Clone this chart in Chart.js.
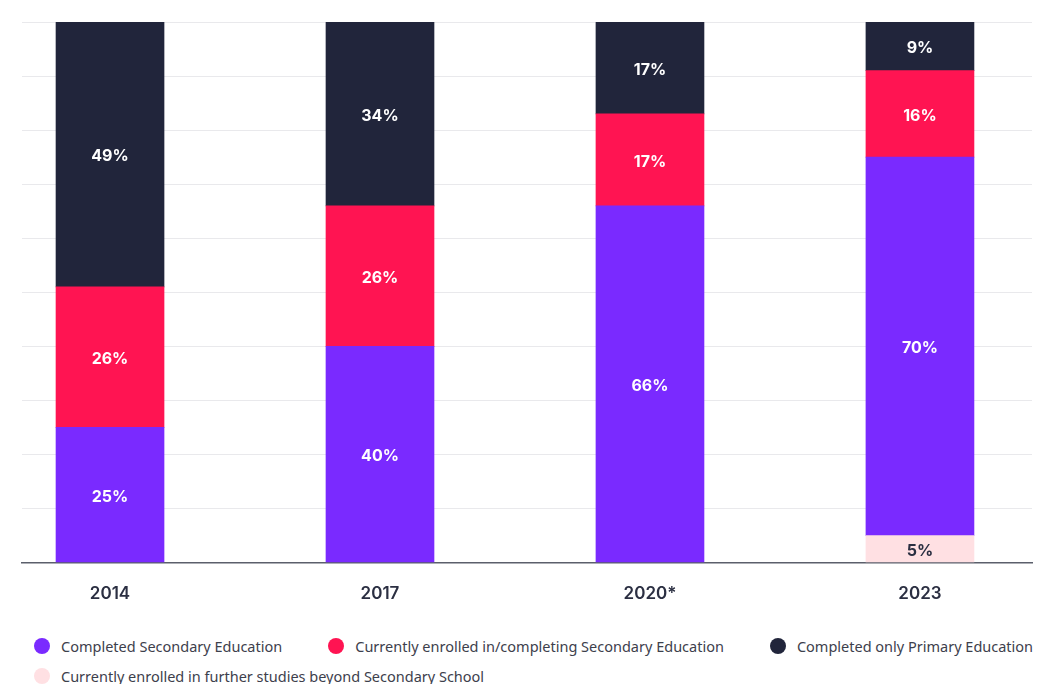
<!DOCTYPE html>
<html>
<head>
<meta charset="utf-8">
<script src="https://cdn.jsdelivr.net/npm/chart.js@4"></script>
<style>
  html, body { margin: 0; padding: 0; background: #fff; }
  #wrap { width: 1046px; height: 645px; position: relative; }
  .legend {
    display: flex;
    flex-wrap: wrap;
    width: 1012px;
    margin: -9px 0 0 34px;
    row-gap: 11px;
    column-gap: 46px;
    font-family: "Noto Sans", sans-serif;
    font-size: 14.5px;
    color: #3d404c;
  }
  .legend span { display: flex; align-items: center; height: 19px; white-space: nowrap; }
  .legend i { width: 16px; height: 16px; border-radius: 50%; margin-right: 11px; display: inline-block; }
</style>
</head>
<body>
<div id="wrap"><canvas id="chart"></canvas></div>
<div class="legend" id="legend"></div>
<script>
//Years on the x axis
const years = ["2014", "2017", "2020*", "2023"];
//Series values (percent), bottom of the stack first
const furtherStudies = [null, null, null, 5];
const completedSecondary = [25, 40, 66, 70];
const enrolledSecondary = [26, 26, 17, 16];
const onlyPrimary = [49, 34, 17, 9];
//Legend order as shown below the chart
const legendOrder = [
  "Completed Secondary Education",
  "Currently enrolled in/completing Secondary Education",
  "Completed only Primary Education",
  "Currently enrolled in further studies beyond Secondary School",
];

function points(values) {
  return values.map((v, i) => ({ x: i, y: v }));
}

//Draw the percent inside each bar segment
const segmentLabels = {
  id: "segmentLabels",
  afterDatasetsDraw(chart) {
    const ctx = chart.ctx;
    ctx.save();
    ctx.font = "bold 16px Inter";
    ctx.textAlign = "center";
    ctx.textBaseline = "middle";
    chart.data.datasets.forEach((ds, di) => {
      const meta = chart.getDatasetMeta(di);
      meta.data.forEach((bar, i) => {
        const v = ds.data[i].y;
        if (v == null) return;
        const mid = (bar.y + bar.base) / 2;
        ctx.fillStyle = ds.labelColor;
        ctx.fillText(v + "%", bar.x, mid + 2);
      });
    });
    ctx.restore();
  },
};

const ctx = document.getElementById("chart").getContext("2d");
const chart = new Chart(ctx, {
  type: "bar",
  data: {
    datasets: [
      {
        label: legendOrder[3],
        data: points(furtherStudies),
        backgroundColor: "#ffe0e3",
        labelColor: "#2b2f42",
      },
      {
        label: legendOrder[0],
        data: points(completedSecondary),
        backgroundColor: "#7a2aff",
        labelColor: "#ffffff",
      },
      {
        label: legendOrder[1],
        data: points(enrolledSecondary),
        backgroundColor: "#ff1452",
        labelColor: "#ffffff",
      },
      {
        label: legendOrder[2],
        data: points(onlyPrimary),
        backgroundColor: "#21253b",
        labelColor: "#ffffff",
      },
    ],
  },
  options: {
    responsive: true,
    maintainAspectRatio: false,
    animation: false,
    layout: { padding: { left: 22, top: 22, right: 14, bottom: 20 } },
    datasets: {
      bar: { barThickness: 108, borderWidth: 0 },
    },
    scales: {
      x: {
        type: "linear",
        stacked: true,
        offset: false,
        min: -0.326,
        max: 3.415,
        afterBuildTicks: (axis) => {
          axis.ticks = years.map((y, i) => ({ value: i }));
        },
        ticks: {
          padding: 21,
          color: "#2b2f42",
          font: { family: "Inter", size: 17, weight: "600" },
          callback: (value) => years[value],
        },
        grid: { display: false, drawTicks: false },
        border: { display: true, color: "#5b5f6b", width: 1.5 },
      },
      y: {
        stacked: true,
        min: 0,
        max: 100,
        ticks: { display: false, stepSize: 10 },
        grid: { color: "#e9e9ec", drawTicks: false },
        border: { display: false },
      },
    },
    plugins: {
      tooltip: { enabled: false },
      legend: { display: false },
    },
  },
  plugins: [segmentLabels],
});

//HTML legend in the order shown under the chart
const legendBox = document.getElementById("legend");
legendOrder.forEach((text) => {
  const ds = chart.data.datasets.find((d) => d.label === text);
  const item = document.createElement("span");
  item.innerHTML = `<i style="background:${ds.backgroundColor}"></i>${text}`;
  legendBox.appendChild(item);
});
</script>
</body>
</html>
